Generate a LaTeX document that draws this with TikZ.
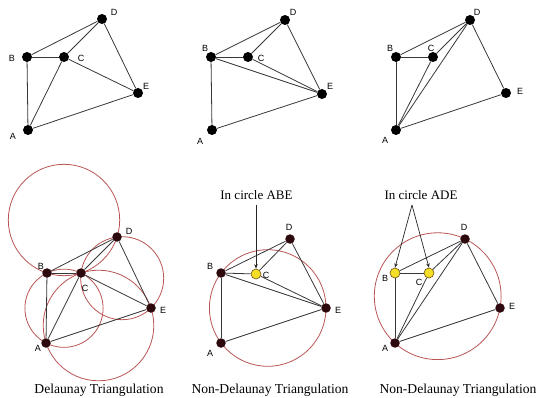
\documentclass[tikz,border=0pt]{standalone}
\usepackage{fontspec}
\setmainfont{Liberation Serif}
\newfontfamily\lblfont{Liberation Sans}
\usetikzlibrary{arrows.meta}
\definecolor{circred}{RGB}{185,85,85}
\definecolor{dotdark}{RGB}{45,8,12}
\definecolor{dotyel}{RGB}{245,222,40}
\definecolor{yelrim}{RGB}{110,80,10}
\tikzset{
  tdot/.style={circle, fill=black, inner sep=0pt, minimum size=10pt},
  bdot/.style={circle, fill=dotdark, inner sep=0pt, minimum size=9.5pt},
  ydot/.style={circle, fill=dotyel, draw=yelrim, line width=0.6pt, inner sep=0pt, minimum size=10pt},
  lbl/.style={font=\lblfont\fontsize{9}{10}\selectfont, inner sep=0pt},
  captxt/.style={font=\fontsize{13.6}{15}\selectfont, inner sep=0pt},
  intxt/.style={font=\fontsize{13}{15}\selectfont, inner sep=0pt},
  seg/.style={draw=black!78, line width=0.8pt},
  circ/.style={draw=circred, line width=0.8pt},
  arr/.style={draw=black!85, line width=0.7pt, -{Stealth[length=4.5pt,width=3.5pt]}}
}
\begin{document}
\begin{tikzpicture}[x=1pt,y=-1pt]
\useasboundingbox (0,0) rectangle (538,398);

% ---------- Top panel 1 ----------
\node[tdot] (aA) at (28,130) {};
\node[tdot] (aB) at (27,57) {};
\node[tdot] (aC) at (64,57) {};
\node[tdot] (aD) at (102,19) {};
\node[tdot] (aE) at (138,93) {};
\draw[seg] (aB) -- (aD);
\draw[seg] (aC) -- (aD);
\draw[seg] (aB) -- (aC);
\draw[seg] (aB) -- (aA);
\draw[seg] (aA) -- (aC);
\draw[seg] (aA) -- (aE);
\draw[seg] (aC) -- (aE);
\draw[seg] (aD) -- (aE);
\node[lbl] (aLA) at (13,136) {A};
\node[lbl] (aLB) at (12,58) {B};
\node[lbl] (aLC) at (81,58) {C};
\node[lbl] (aLD) at (114,12) {D};
\node[lbl] (aLE) at (146,86) {E};

% ---------- Top panel 2 ----------
\node[tdot] (bA) at (212,130) {};
\node[tdot] (bB) at (211,57) {};
\node[tdot] (bC) at (248,57) {};
\node[tdot] (bD) at (285,20) {};
\node[tdot] (bE) at (322,94) {};
\draw[seg] (bB) -- (bD);
\draw[seg] (bC) -- (bD);
\draw[seg] (bB) -- (bC);
\draw[seg] (bB) -- (bE);
\draw[seg] (bC) -- (bE);
\draw[seg] (bB) -- (bA);
\draw[seg] (bA) -- (bE);
\draw[seg] (bD) -- (bE);
\node[lbl] (bLA) at (200,141) {A};
\node[lbl] (bLB) at (205,48) {B};
\node[lbl] (bLC) at (261,58) {C};
\node[lbl] (bLD) at (293,12) {D};
\node[lbl] (bLE) at (330,86) {E};

% ---------- Top panel 3 ----------
\node[tdot] (cA) at (396,130) {};
\node[tdot] (cB) at (396,57) {};
\node[tdot] (cC) at (433,57) {};
\node[tdot] (cD) at (470,20) {};
\node[tdot] (cE) at (506,93) {};
\draw[seg] (cB) -- (cD);
\draw[seg] (cB) -- (cC);
\draw[seg] (cC) -- (cD);
\draw[seg] (cB) -- (cA);
\draw[seg] (cA) -- (cC);
\draw[seg] (cA) -- (cD);
\draw[seg] (cD) -- (cE);
\draw[seg] (cA) -- (cE);
\node[lbl] (cLA) at (385,140) {A};
\node[lbl] (cLB) at (390,48) {B};
\node[lbl] (cLC) at (431,48) {C};
\node[lbl] (cLD) at (477,12) {D};
\node[lbl] (cLE) at (520,91) {E};

% ---------- Bottom panel 1 (Delaunay) ----------
\draw[circ] (64,220) circle[radius=55.7];
\draw[circ] (64,308.25) circle[radius=39.1];
\draw[circ] (122.2,278.2) circle[radius=41.5];
\draw[circ] (98.5,325.5) circle[radius=55.3];
\node[bdot] (dA) at (46,343) {};
\node[bdot] (dB) at (47,273) {};
\node[bdot] (dC) at (81,273) {};
\node[bdot] (dD) at (117,237) {};
\node[bdot] (dE) at (151,308) {};
\draw[seg] (dB) -- (dD);
\draw[seg] (dC) -- (dD);
\draw[seg] (dB) -- (dC);
\draw[seg] (dB) -- (dA);
\draw[seg] (dA) -- (dC);
\draw[seg] (dA) -- (dE);
\draw[seg] (dC) -- (dE);
\draw[seg] (dD) -- (dE);
\node[lbl] (dLA) at (38,348) {A};
\node[lbl] (dLB) at (41,266) {B};
\node[lbl] (dLC) at (85,288) {C};
\node[lbl] (dLD) at (129,231) {D};
\node[lbl] (dLE) at (163,310) {E};
\node[captxt] (dCap) at (99,390) {Delaunay Triangulation};

% ---------- Bottom panel 2 ----------
\draw[circ] (267.7,308) circle[radius=58.3];
\node[bdot] (eA) at (221,343) {};
\node[bdot] (eB) at (221,273) {};
\node[ydot] (eC) at (256,274) {};
\node[bdot] (eD) at (290,239) {};
\node[bdot] (eE) at (326,308) {};
\draw[seg] (eB) -- (eD);
\draw[seg] (eC) -- (eD);
\draw[seg] (eB) -- (eC);
\draw[seg] (eB) -- (eE);
\draw[seg] (eC) -- (eE);
\draw[seg] (eB) -- (eA);
\draw[seg] (eA) -- (eE);
\draw[seg] (eD) -- (eE);
\node[lbl] (eLA) at (210,353) {A};
\node[lbl] (eLB) at (210,266) {B};
\node[lbl] (eLC) at (266,275) {C};
\node[lbl] (eLD) at (289,227) {D};
\node[lbl] (eLE) at (338,310) {E};
\node[intxt] (eTxt) at (256.5,195) {In circle ABE};
\coordinate (eArr) at (256,205);
\draw[arr] (eArr) -- (eC.north);
\node[captxt] (eCap) at (270,390) {Non-Delaunay Triangulation};

% ---------- Bottom panel 3 ----------
\draw[circ] (437.7,296.2) circle[radius=63.4];
\node[bdot] (fA) at (395,343) {};
\node[ydot] (fB) at (395,273) {};
\node[ydot] (fC) at (429,273) {};
\node[bdot] (fD) at (465,239) {};
\node[bdot] (fE) at (500,308) {};
\draw[seg] (fB) -- (fD);
\draw[seg] (fB) -- (fC);
\draw[seg] (fC) -- (fD);
\draw[seg] (fB) -- (fA);
\draw[seg] (fA) -- (fC);
\draw[seg] (fA) -- (fD);
\draw[seg] (fD) -- (fE);
\draw[seg] (fA) -- (fE);
\node[lbl] (fLA) at (385,348) {A};
\node[lbl] (fLB) at (385,278) {B};
\node[lbl] (fLC) at (419,282) {C};
\node[lbl] (fLD) at (464,227) {D};
\node[lbl] (fLE) at (512,306) {E};
\node[intxt] (fTxt) at (421,195) {In circle ADE};
\coordinate (fArr) at (412,205);
\draw[arr] (fArr) -- (fB.north);
\draw[arr] (fArr) -- (fC.north);
\node[captxt] (fCap) at (458,390) {Non-Delaunay Triangulation};
\end{tikzpicture}
\end{document}
